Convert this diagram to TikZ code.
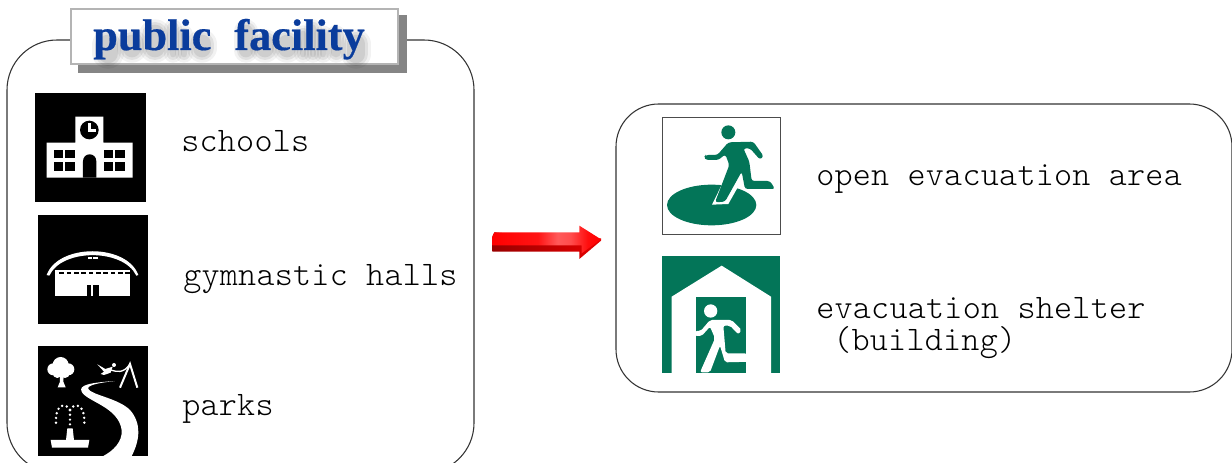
\documentclass[tikz,border=0pt]{standalone}
\usepackage{fontspec}
\setmainfont{Liberation Serif}
\setmonofont{Latin Modern Mono Light}[LetterSpace=0.75]
\newfontfamily\titlefont{Liberation Serif Bold}[FakeBold=0.4]
\usetikzlibrary{shadings}
\definecolor{evac}{HTML}{037558}
\definecolor{titleblue}{HTML}{0A3C9C}
\definecolor{shadowgray}{HTML}{858585}
\definecolor{framegray}{HTML}{B4B4B4}
\pgfdeclarehorizontalshading{arrowface}{100bp}{color(0bp)=(red); color(25bp)=(red); color(46bp)=(red!92!white); color(55bp)=(red!65!white); color(61bp)=(red!70!white); color(69bp)=(red!95!white); color(75bp)=(red); color(100bp)=(red)}
\tikzset{
  panel/.style={draw=black!80,line width=0.8pt,fill=white},
  label/.style={anchor=base west,inner sep=0pt,font=\ttfamily\fontsize{25.8}{26}\selectfont,text=black},
  titletext/.style={anchor=base west,inner sep=0pt,font=\titlefont\fontsize{33.2}{34}\selectfont},
  zoomA/.style={shift={(0,0)},scale=1/3},
  zoomB/.style={shift={(20,210)},scale=1/3},
  zoomD/.style={shift={(660,115)},scale=1/3},
  zoomE/.style={shift={(660,255)},scale=1/3},
  zoomF/.style={shift={(485,220)},scale=1/3},
}
\begin{document}
\begin{tikzpicture}[x=0.75pt,y=-0.75pt]
\useasboundingbox (0,0) rectangle (1232,463);
\begin{scope}
\clip (0,0) rectangle (1232,463);
\draw[panel,rounded corners=37.5pt] (7,40) rectangle (474,473);
\draw[panel,rounded corners=32pt] (616,104) rectangle (1232,392);
\end{scope}
% title box
\fill[shadowgray] (78,15) rectangle (407,73);
\draw[draw=framegray,fill=white,line width=1.8pt] (71,9) rectangle (398,64);
% soft shadow behind the title letters
\foreach \cx/\ctop/\cbot/\cw in {108/34/64/22,132/34/58/20,155/24/58/22,173/24/58/8,184/30/58/8,202/34/58/20,246/24/58/15,265/34/58/20,287/34/58/20,303/30/58/8,313/24/58/8,323/30/58/8,336/30/58/11,356/34/64/20} {
  \draw[black,opacity=.05,line width=\cw*0.75pt+7pt,line cap=round] (\cx,\ctop+\cw*0.5) -- (\cx,\cbot-\cw*0.5);
  \draw[black,opacity=.07,line width=\cw*0.75pt+3pt,line cap=round] (\cx,\ctop+\cw*0.5) -- (\cx,\cbot-\cw*0.5);
  \draw[black,opacity=.08,line width=\cw*0.75pt-1pt,line cap=round] (\cx,\ctop+\cw*0.5) -- (\cx,\cbot-\cw*0.5);
}
\node[titletext,text=titleblue] (title) at (93,50) {public\hspace{0.52em}facility};

% school icon
\fill[black] (35,93) rectangle (145.5,202.5);
\begin{scope}[zoomA]
\fill[white] (140,428) -- (226,428) -- (226,350) -- (310,350) -- (310,428) -- (398,428) -- (398,533) -- (140,533) -- cycle;
\fill[black] (268,390) circle (28);
\fill[white] (264,368) rectangle (272,396);
\fill[white] (264,388) rectangle (288,396);
\foreach \wx in {162,312} {
  \fill[black] (\wx,450) rectangle (\wx+28,474);
  \fill[black] (\wx+34,450) rectangle (\wx+62,474);
  \fill[black] (\wx,486) rectangle (\wx+28,512);
  \fill[black] (\wx+34,486) rectangle (\wx+62,512);
}
\fill[black] (249,533) -- (249,484) .. controls (249,456) and (289,456) .. (289,484) -- (289,533) -- cycle;
\end{scope}
\node[label] (schools) at (181,152) {schools};

% gym icon
\fill[black] (38,215) rectangle (147.5,324.5);
\begin{scope}[zoomB]
\fill[white] (80,195) .. controls (115,100) and (320,100) .. (355,195) -- (349,197) .. controls (310,115) and (125,115) .. (88,197) -- cycle;
\fill[white] (105,180) rectangle (330,257);
\foreach \gx in {118,140,162,184,206,228,250,272,294,316}
  \fill[black] (\gx,187) rectangle (\gx+14,193);
\fill[black] (202,225) rectangle (214,257);
\fill[black] (220,225) rectangle (236,257);
\fill[white] (204,140) rectangle (217,146);
\fill[white] (220,140) rectangle (233,146);
\end{scope}
\node[label] (halls) at (183,286) {gymnastic halls};

% park icon
\fill[black] (38,346) rectangle (147.5,456);
\begin{scope}[zoomB]
\foreach \tx/\ty/\tr in {122/465/24,100/478/18,145/478/18,112/490/14,135/490/14,122/478/20}
  \fill[white] (\tx,\ty) circle (\tr);
\fill[white] (113,532) -- (137,532) -- (130,515) -- (131,495) -- (119,495) -- (120,515) -- cycle;
\draw[white,line width=1.5pt] (300,533) -- (330,462) -- (352,533);
\draw[white,line width=1pt] (330,462) .. controls (310,492) and (290,485) .. (272,480);
\fill[white] (282,465) circle (6);
\fill[white] (232,463) -- (256,477) -- (278,470) -- (272,488) -- (252,495) -- (242,492) -- (252,485) -- cycle;
\fill[white] (285,513) .. controls (210,518) and (175,525) .. (185,545) .. controls (200,575) and (295,590) .. (305,660) .. controls (308,695) and (280,722) .. (250,738) -- (335,738) .. controls (360,690) and (365,640) .. (330,600) .. controls (295,565) and (215,555) .. (205,537) .. controls (200,525) and (240,518) .. (285,513) -- cycle;
\fill[white] (92,690) -- (138,690) -- (142,655) -- (158,655) -- (162,690) -- (208,690) -- (204,713) -- (96,713) -- cycle;
\draw[white,line width=2pt,line cap=round,dash pattern=on 0pt off 3.6pt] (150,600) .. controls (140,580) and (105,575) .. (108,640);
\draw[white,line width=2pt,line cap=round,dash pattern=on 0pt off 3.6pt] (150,600) .. controls (160,580) and (195,575) .. (193,640);
\draw[white,line width=2pt,line cap=round,dash pattern=on 0pt off 3.6pt] (150,600) -- (150,650);
\end{scope}
\node[label] (parks) at (182,415) {parks};

% arrow
\begin{scope}[zoomF]
\shade[left color=red!60!black,right color=red!90!black] (22,50) -- (22,95) -- (283,95) -- (283,117) -- (348,62) -- (348,55) -- (290,60) -- (28,37) -- cycle;
\shade[shading=arrowface] (28,37) -- (283,37) -- (283,17) -- (348,58) -- (290,100) -- (290,76) -- (22,76) -- (22,50) -- cycle;
\end{scope}

% open evacuation area icon
\begin{scope}[zoomD]
\draw[black!70,fill=white,line width=0.8pt] (7,7) rectangle (361,358);
\fill[evac] (155,270) ellipse (134 and 61);
\fill[evac] (205,52) circle (21);
\fill[white] (156,269) -- (205,267) -- (236,212) -- (190,200) -- cycle;
\fill[evac,rounded corners=2pt] (205,82) -- (280,80) -- (311,124) -- (300,134) -- (270,100) -- (250,100) -- (268,140) -- (275,198) -- (330,198) -- (345,222) -- (255,222) -- (245,170) -- (195,260) -- (165,262) -- (208,150) -- (196,118) -- (175,135) -- (137,135) -- (133,125) -- (137,120) -- (172,120) -- cycle;
\end{scope}
\node[label] (area) at (816,186) {open evacuation area};

% shelter icon
\begin{scope}[zoomE]
\fill[evac] (7,3) rectangle (361,355);
\fill[white] (35,355) -- (35,125) -- (185,32) -- (333,125) -- (333,355) -- cycle;
\fill[evac] (108,127) rectangle (258,355);
\fill[white] (152,168) circle (20);
\fill[white,rounded corners=1.5pt] (105,228) -- (122,228) -- (150,195) -- (215,195) -- (245,225) -- (235,238) -- (210,212) -- (190,212) -- (197,295) -- (260,295) -- (280,320) -- (195,322) -- (180,272) -- (150,352) -- (120,352) -- (165,250) -- (150,215) -- (125,243) -- (105,243) -- cycle;
\end{scope}
\node[label] (shelter) at (816,319) {evacuation shelter};
\node[label] (building) at (833,351) {(building)};
\end{tikzpicture}
\end{document}
